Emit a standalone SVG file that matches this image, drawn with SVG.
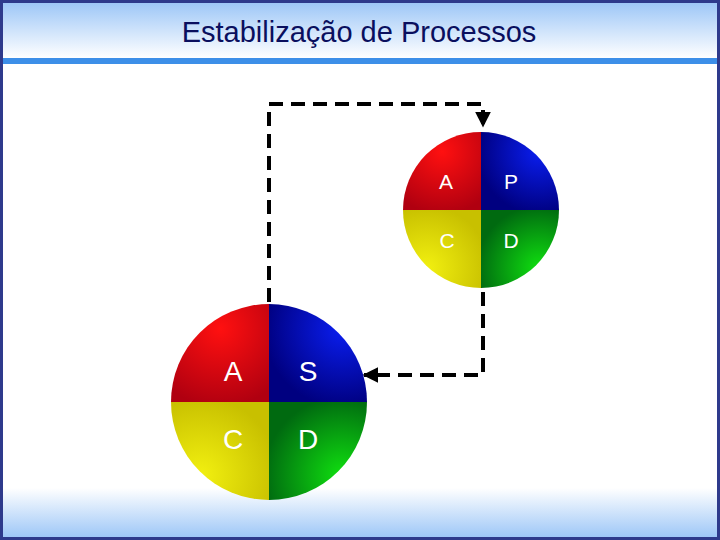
<svg xmlns="http://www.w3.org/2000/svg" width="720" height="540" viewBox="0 0 720 540">
<defs>
<linearGradient id="top" x1="0" y1="0" x2="0" y2="1"><stop offset="0" stop-color="#9cc6f7"/><stop offset="1" stop-color="#ffffff"/></linearGradient>
<linearGradient id="bot" x1="0" y1="0" x2="0" y2="1"><stop offset="0" stop-color="#ffffff"/><stop offset="1" stop-color="#9cc6f7"/></linearGradient>
<radialGradient id="gR" cx="0.5" cy="0.25" r="0.8"><stop offset="0" stop-color="#ff1010"/><stop offset="1" stop-color="#b00010"/></radialGradient>
<radialGradient id="gB" cx="0.75" cy="0.25" r="0.8"><stop offset="0" stop-color="#0a1ef0"/><stop offset="1" stop-color="#000080"/></radialGradient>
<radialGradient id="gY" cx="0.3" cy="0.75" r="0.8"><stop offset="0" stop-color="#f2f010"/><stop offset="1" stop-color="#c8c000"/></radialGradient>
<radialGradient id="gG" cx="0.75" cy="0.75" r="0.8"><stop offset="0" stop-color="#10e010"/><stop offset="1" stop-color="#006a10"/></radialGradient>
<marker id="arr" viewBox="0 0 10 10" refX="9" refY="5" markerWidth="4" markerHeight="4" orient="auto-start-reverse"><path d="M0,0 L10,5 L0,10 z" fill="#000"/></marker>
<style>
.lbl{font-family:"Liberation Sans",Arial,sans-serif;fill:#fff;text-anchor:middle}
.con{fill:none;stroke:#000;stroke-width:4;stroke-dasharray:14,8}
</style>
</defs>
<rect x="0" y="0" width="720" height="540" fill="#fff"/>
<rect x="2" y="2" width="716" height="56" fill="url(#top)"/>
<rect x="2" y="58" width="716" height="6" fill="#3d8fe8"/>
<rect x="2" y="488" width="716" height="50" fill="url(#bot)"/>
<rect x="1.5" y="1.5" width="717" height="537" fill="none" stroke="#2e3a8c" stroke-width="3"/>
<text x="359" y="42" font-family="'Liberation Sans',Arial,sans-serif" font-size="29" fill="#0a0f5e" text-anchor="middle">Estabilização de Processos</text>
<g id="connectors">
<path class="con" d="M269,302 L269,104 L483,104 L483,126" marker-end="url(#arr)"/>
<path class="con" d="M483,292 L483,375 L364,375" marker-end="url(#arr)"/>
</g>
<g id="pdca">
<path d="M481,210 L481,132 A78,78 0 0 0 403,210 Z" fill="url(#gR)"/>
<path d="M481,210 L481,132 A78,78 0 0 1 559,210 Z" fill="url(#gB)"/>
<path d="M481,210 L403,210 A78,78 0 0 0 481,288 Z" fill="url(#gY)"/>
<path d="M481,210 L559,210 A78,78 0 0 1 481,288 Z" fill="url(#gG)"/>
<text class="lbl" x="446" y="189" font-size="21">A</text>
<text class="lbl" x="511" y="189" font-size="21">P</text>
<text class="lbl" x="447" y="248" font-size="21">C</text>
<text class="lbl" x="511" y="248" font-size="21">D</text>
</g>
<g id="sdca">
<path d="M269,402 L269,304 A98,98 0 0 0 171,402 Z" fill="url(#gR)"/>
<path d="M269,402 L269,304 A98,98 0 0 1 367,402 Z" fill="url(#gB)"/>
<path d="M269,402 L171,402 A98,98 0 0 0 269,500 Z" fill="url(#gY)"/>
<path d="M269,402 L367,402 A98,98 0 0 1 269,500 Z" fill="url(#gG)"/>
<text class="lbl" x="233" y="381" font-size="28">A</text>
<text class="lbl" x="308" y="381" font-size="28">S</text>
<text class="lbl" x="233" y="449" font-size="28">C</text>
<text class="lbl" x="308" y="449" font-size="28">D</text>
</g>
</svg>
